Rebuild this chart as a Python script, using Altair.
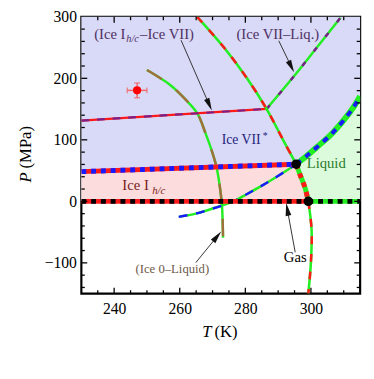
import math
import altair as alt
import pandas as pd

W, H = 285, 283
T_DOMAIN = [230, 315]
P_DOMAIN = [-150, 300]
SERIF = "Liberation Serif"

# ---- tick labels ----
x_labels = [240, 260, 280, 300]
y_labels = [-100, 0, 100, 200, 300]
x_minor = [235, 245, 250, 255, 265, 270, 275, 285, 290, 295, 305, 310]
y_minor = [-140, -120, -80, -60, -40, -20, 20, 40, 60, 80, 120, 140, 160, 180, 220, 240, 260, 280]
x_major = [240, 260, 280, 300]
y_major = [-100, 0, 100, 200]

# ---- phase boundaries (T in K, P in MPa) ----
ice1_vii_star_T = [230, 295.5]
ice1_vii_star_P = [48.3, 60.4]
vii_star_liq_T = [295.5, 298.5, 301.7, 306.6, 310.6, 313.1, 315]
vii_star_liq_P = [60.4, 73, 87.6, 111.2, 136, 154, 171]
melt_upper_T = [265.3, 273.5, 280.5, 286.5, 291.5, 295.5]
melt_upper_P = [300, 250, 200, 150, 100, 60.4]
melt_mid_T = [295.5, 296.7, 298.2, 299.2]
melt_mid_P = [60.4, 43.1, 22, 0]
melt_low_T = [299.2, 300.2, 300.0, 299.2]
melt_low_P = [0, -46.1, -98.5, -150]
gas_left_T = [230, 299.2]
gas_left_P = [0, 0]
gas_right_T = [299.2, 315]
gas_right_P = [0, 0]
ice1_vii_T = [230, 286.5]
ice1_vii_P = [131.2, 150.3]
vii_liq_T = [286.5, 294.3, 301.8, 309.0]
vii_liq_P = [150.3, 200, 250, 298.4]
ice0_liq_T = [250.0, 256.9, 262.1, 265.4, 267.9, 269.9, 271.3, 272.4, 272.9, 273.1, 273.2]
ice0_liq_P = [213.5, 189.9, 163.6, 142.7, 110.0, 80.0, 53.5, 16.8, -9.5, -35.6, -59.2]
ice0_low_T = [259.7, 264.9, 268.9, 272.9, 276.8, 279.8, 284.8, 289.7, 295.5]
ice0_low_P = [-25.2, -19.9, -13.6, -6.8, 1.1, 9.8, 24.7, 40.4, 60.4]

triple_T = [295.5, 299.2]
triple_P = [60.4, 0]

meas_T = [247.0]
meas_P = [180.4]
meas_dT = [3.0]
meas_dP = [12.0]

# ---- region fills ----
pink_T = [230, 295.5, 296.7, 298.2, 299.2]
pink_P = [48.3, 60.4, 43.1, 22, 0]

xs = alt.Scale(domain=T_DOMAIN, nice=False, zero=False)
ys = alt.Scale(domain=P_DOMAIN, nice=False, zero=False)
xaxis = alt.Axis(values=x_labels, ticks=False, domain=False, grid=False, title=None,
                 labelFont=SERIF, labelFontSize=16, labelPadding=7, labelColor="black")
yaxis = alt.Axis(values=y_labels, ticks=False, domain=False, grid=False, title=None,
                 labelFont=SERIF, labelFontSize=16, labelPadding=5, labelColor="black")
X = alt.X("T:Q", scale=xs, axis=xaxis)
Y = alt.Y("P:Q", scale=ys, axis=yaxis)

layers = []

bg = pd.DataFrame({"T": [T_DOMAIN[0]], "T2": [T_DOMAIN[1]], "P": [0], "P2": [P_DOMAIN[1]]})
layers.append(alt.Chart(bg).mark_rect(color="#d9d9f8").encode(x=X, x2="T2:Q", y=Y, y2="P2:Q"))

green = pd.DataFrame({"T": vii_star_liq_T, "P": vii_star_liq_P})
layers.append(alt.Chart(green).mark_area(color="#dcfadc", opacity=1, clip=True,
                                         interpolate="monotone").encode(
    x=X, y=Y, y2=alt.datum(0)))
pink = pd.DataFrame({"T": pink_T, "P": pink_P})
layers.append(alt.Chart(pink).mark_area(color="#fcdcdc", opacity=1).encode(
    x=X, y=Y, y2=alt.datum(0)))


def curve(T, P, base, top, width, dash, top_width=None):
    df = pd.DataFrame({"T": T, "P": P, "i": list(range(len(T)))})
    interp = "catmull-rom" if len(T) > 2 else "linear"
    c1 = alt.Chart(df).mark_line(color=base, strokeWidth=width, clip=True, interpolate=interp,
                                 strokeCap="butt", strokeJoin="round").encode(x=X, y=Y, order="i:Q")
    c2 = alt.Chart(df).mark_line(color=top, strokeWidth=top_width or width, clip=True,
                                 interpolate=interp, strokeDash=dash, strokeCap="butt",
                                 strokeJoin="round").encode(x=X, y=Y, order="i:Q")
    return [c1, c2]


RED, GREEN, BLUE, BLACK = "#ff1a1a", "#22ee22", "#1a1aff", "#000000"
PURPLE, BROWN = "#7a1f8a", "#a0703c"

layers += curve(ice0_liq_T, ice0_liq_P, GREEN, BROWN, 2.5, [18, 18])
layers += curve(ice0_low_T, ice0_low_P, GREEN, BLUE, 2.5, [9, 9])
layers += curve(ice1_vii_T, ice1_vii_P, RED, PURPLE, 2.2, [8, 8])
layers += curve(vii_liq_T, vii_liq_P, GREEN, PURPLE, 2.5, [5, 14])
layers += curve(melt_upper_T, melt_upper_P, GREEN, RED, 2.6, [8, 10])
layers += curve(melt_low_T, melt_low_P, GREEN, RED, 2.6, [8, 10])
layers += curve(gas_left_T, gas_left_P, RED, BLACK, 5, [5, 5])
layers += curve(gas_right_T, gas_right_P, GREEN, BLACK, 5, [5, 5])
layers += curve(ice1_vii_star_T, ice1_vii_star_P, RED, BLUE, 5, [5, 5])
layers += curve(vii_star_liq_T, vii_star_liq_P, GREEN, BLUE, 6, [6, 6], 4)
layers += curve(melt_mid_T, melt_mid_P, GREEN, RED, 5, [5, 5])

tp = pd.DataFrame({"T": triple_T, "P": triple_P})
layers.append(alt.Chart(tp).mark_point(filled=True, color="black", size=95, opacity=1).encode(x=X, y=Y))

# measurement with error bars
ms = pd.DataFrame({"T": meas_T, "P": meas_P, "dT": meas_dT, "dP": meas_dP})
EB = "#f06a6a"
base_ms = alt.Chart(ms).transform_calculate(
    Tlo="datum.T - datum.dT", Thi="datum.T + datum.dT",
    Plo="datum.P - datum.dP", Phi="datum.P + datum.dP")
layers.append(base_ms.mark_rule(color=EB, strokeWidth=1.5).encode(x=alt.X("Tlo:Q", scale=xs, axis=xaxis), x2="Thi:Q", y=Y))
layers.append(base_ms.mark_rule(color=EB, strokeWidth=1.5).encode(x=X, y=alt.Y("Plo:Q", scale=ys, axis=yaxis), y2="Phi:Q"))
for f in ["Tlo", "Thi"]:
    layers.append(base_ms.mark_tick(color=EB, thickness=1.5, size=6, orient="vertical").encode(
        x=alt.X(f + ":Q", scale=xs, axis=xaxis), y=Y))
for f in ["Plo", "Phi"]:
    layers.append(base_ms.mark_tick(color=EB, thickness=1.5, size=6, orient="horizontal").encode(
        x=X, y=alt.Y(f + ":Q", scale=ys, axis=yaxis)))
layers.append(alt.Chart(ms).mark_point(filled=True, color="#ff0000", size=70, opacity=1).encode(x=X, y=Y))

# arrows
arrows_T0 = [260.4, 290.2, 295.2, 264.9]
arrows_P0 = [262.0, 261.0, -82.8, -99.6]
arrows_T1 = [269.0, 294.0, 292.8, 271.4]
arrows_P1 = [157.0, 219.0, -13.0, -57.0]
kx = W / (T_DOMAIN[1] - T_DOMAIN[0])
ky = H / (P_DOMAIN[1] - P_DOMAIN[0])
angles = []
for a, b, c, d in zip(arrows_T0, arrows_P0, arrows_T1, arrows_P1):
    dx = (c - a) * kx
    dy = -(d - b) * ky
    angles.append(math.degrees(math.atan2(dx, -dy)) % 360)
ar = pd.DataFrame({"T": arrows_T0, "P": arrows_P0, "T2": arrows_T1, "P2": arrows_P1, "ang": angles})
layers.append(alt.Chart(ar).mark_rule(color="#333333", strokeWidth=1).encode(x=X, y=Y, x2="T2:Q", y2="P2:Q"))
layers.append(alt.Chart(ar).mark_point(shape="M0,-1L0.45,1L-0.45,1Z", filled=True, color="#111111",
                                       size=170, opacity=1).encode(
    x=alt.X("T2:Q", scale=xs, axis=xaxis), y=alt.Y("P2:Q", scale=ys, axis=yaxis),
    angle=alt.Angle("ang:Q", scale=None)))


def label(text, T, P, color, size, align="left", style="normal", baseline="alphabetic"):
    df = pd.DataFrame({"T": [T], "P": [P], "s": [text]})
    return alt.Chart(df).mark_text(font=SERIF, fontSize=size, color=color, align=align,
                                   fontStyle=style, baseline=baseline).encode(x=X, y=Y, text="s:N")


PURP_T = "#4e3060"
layers.append(label("(Ice I", 233.9, 264.0, PURP_T, 15))
layers.append(label("h/c", 243.7, 258.8, PURP_T, 10.5, style="italic"))
layers.append(label("–Ice VII)", 247.9, 264.0, PURP_T, 15))
layers.append(label("(Ice VII–Liq.)", 277.3, 264.0, PURP_T, 15))
layers.append(label("Ice VII", 272.8, 93.5, "#23237a", 14))
layers.append(label("*", 285.3, 102.0, "#23237a", 10))
layers.append(label("Liquid", 298.7, 55.0, "#2a7a2a", 15))
layers.append(label("Ice I", 242.5, 18.4, "#7a1c1c", 15))
layers.append(label("h/c", 251.6, 12.5, "#7a1c1c", 11, style="italic"))
layers.append(label("Gas", 295.2, -98, "black", 15, align="center"))
layers.append(label("(Ice 0–Liquid)", 246.5, -116.9, "#6e5a48", 13))

# axis titles
tt = pd.DataFrame({"a": [0]})
layers.append(alt.Chart(tt).mark_text(text="T", font=SERIF, fontSize=17, fontStyle="italic",
                                      align="right", baseline="alphabetic", color="black").encode(
    x=alt.value(133), y=alt.value(H + 44)))
layers.append(alt.Chart(tt).mark_text(text="(K)", font=SERIF, fontSize=17,
                                      align="left", baseline="alphabetic", color="black").encode(
    x=alt.value(136), y=alt.value(H + 44)))
layers.append(alt.Chart(tt).mark_text(text="P", font=SERIF, fontSize=17, fontStyle="italic", angle=270,
                                      align="right", baseline="middle", color="black").encode(
    x=alt.value(-56), y=alt.value(159)))
layers.append(alt.Chart(tt).mark_text(text="(MPa)", font=SERIF, fontSize=17, angle=270,
                                      align="left", baseline="middle", color="black").encode(
    x=alt.value(-56), y=alt.value(155)))

# inward ticks on all sides
def xticks(vals, length):
    df = pd.DataFrame({"T": vals})
    b = alt.Chart(df).mark_rule(color="black", strokeWidth=1.3)
    return [b.encode(x=X, y=alt.value(H), y2=alt.value(H - length)),
            b.encode(x=X, y=alt.value(0), y2=alt.value(length))]


def yticks(vals, length):
    df = pd.DataFrame({"P": vals})
    b = alt.Chart(df).mark_rule(color="black", strokeWidth=1.3)
    return [b.encode(y=Y, x=alt.value(0), x2=alt.value(length)),
            b.encode(y=Y, x=alt.value(W), x2=alt.value(W - length))]


layers += xticks(x_major, 6) + xticks(x_minor, 3.5)
layers += yticks(y_major, 6) + yticks(y_minor, 3.5)

chart = alt.layer(*layers).properties(
    width=W, height=H, autosize="none",
    padding={"left": 75, "top": 5, "right": 6, "bottom": 70},
).configure_view(stroke="black", strokeWidth=2.2)

chart.save("out.html", embed_options={"renderer": "svg", "actions": False})
